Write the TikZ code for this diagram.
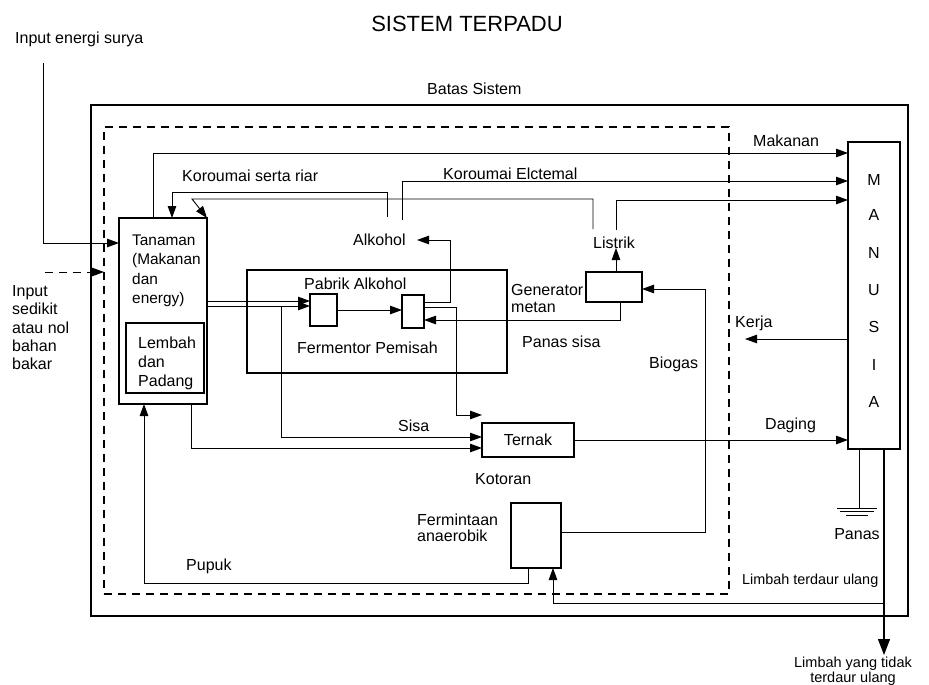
\documentclass[tikz,border=0pt]{standalone}
\usepackage{fontspec}
\setmainfont{Liberation Sans}
\usetikzlibrary{arrows.meta}
\begin{document}
\begin{tikzpicture}[x=1pt,y=-1pt,
  lbl/.style={font=\fontsize{16}{19}\selectfont, inner sep=0pt, anchor=base west},
  bx/.style={draw, line width=2pt, inner sep=0pt, outer sep=0pt, anchor=north west},
  dbx/.style={draw, line width=1.4pt, dash pattern=on 8pt off 6pt, inner sep=0pt, outer sep=0pt, anchor=north west},
  ln/.style={line width=0.9pt},
  arr/.style={ln, -{Triangle[length=12pt,width=8.5pt]}},
  bigarr/.style={line width=1.2pt, -{Triangle[length=16pt,width=12pt]}}]
\path[fill=white] (0,0) rectangle (929,685);
\useasboundingbox (0,0) rectangle (929,685);

% boxes
\node[bx, line width=2.4pt, minimum width=817pt, minimum height=511pt] (outer) at (91,105) {};
\node[dbx, minimum width=625pt, minimum height=467pt] (dash) at (104,127) {};
\node[bx, minimum width=52pt, minimum height=307pt] (man) at (848,142) {};
\node[bx, minimum width=88pt, minimum height=186pt] (tan) at (119,218) {};
\node[bx, minimum width=78pt, minimum height=70pt] (lem) at (126,323) {};
\node[bx, minimum width=260pt, minimum height=103pt] (pab) at (247,270) {};
\node[bx, minimum width=27pt, minimum height=32pt] (ferm) at (310,294) {};
\node[bx, minimum width=22pt, minimum height=33pt] (sep) at (402,295) {};
\node[bx, minimum width=56pt, minimum height=30pt] (gen) at (586,272) {};
\node[bx, minimum width=92pt, minimum height=34pt, font=\fontsize{16}{19}\selectfont] (ter) at (482,423) {Ternak};
\node[bx, minimum width=50pt, minimum height=65pt] (fan) at (511,503) {};

% texts
\node[lbl, anchor=base, font=\fontsize{22}{26}\selectfont] (ttl) at (467,32) {SISTEM TERPADU};
\node[lbl] (tsol) at (15,44) {Input energi surya};
\node[lbl] (tbatas) at (427,94) {Batas Sistem};
\node[lbl] (tmak) at (753,146) {Makanan};
\node[lbl] (tkr) at (182,181) {Koroumai serta riar};
\node[lbl] (tke) at (443,179) {Koroumai Elctemal};
\node[lbl] (talk) at (353,245) {Alkohol};
\node[lbl] (tlis) at (593,248) {Listrik};
\node[lbl, font=\fontsize{15.4}{19}\selectfont] (ttan1) at (132,245) {Tanaman};
\node[lbl, font=\fontsize{15.4}{19}\selectfont] (ttan2) at (132,264) {(Makanan};
\node[lbl, font=\fontsize{15.4}{19}\selectfont] (ttan3) at (132,284) {dan};
\node[lbl, font=\fontsize{15.4}{19}\selectfont] (ttan4) at (132,303) {energy)};
\node[lbl] (tlem1) at (138,348) {Lembah};
\node[lbl] (tlem2) at (138,367) {dan};
\node[lbl] (tlem3) at (138,386) {Padang};
\node[lbl] (tin1) at (12,296) {Input};
\node[lbl] (tin2) at (12,314) {sedikit};
\node[lbl] (tin3) at (12,333) {atau nol};
\node[lbl] (tin4) at (12,351) {bahan};
\node[lbl] (tin5) at (12,369) {bakar};
\node[lbl] (tpab) at (304,289) {Pabrik Alkohol};
\node[lbl] (tfp) at (297,353) {Fermentor Pemisah};
\node[lbl] (tgen1) at (511,295) {Generator};
\node[lbl] (tgen2) at (511,312) {metan};
\node[lbl] (tps) at (522,347) {Panas sisa};
\node[lbl] (tkerja) at (735,327) {Kerja};
\node[lbl] (tbio) at (649,368) {Biogas};
\node[lbl] (tsisa) at (398,431) {Sisa};
\node[lbl] (tdag) at (765,429) {Daging};
\node[lbl] (tkot) at (475,484) {Kotoran};
\node[lbl] (tfan1) at (417,525) {Fermintaan};
\node[lbl] (tfan2) at (417,541) {anaerobik};
\node[lbl] (tpup) at (186,570) {Pupuk};
\node[lbl, anchor=base] (tpan) at (857,539) {Panas};
\node[lbl, font=\fontsize{14.4}{17}\selectfont] (tltu) at (742,584) {Limbah terdaur ulang};
\node[lbl, anchor=base, font=\fontsize{14.5}{17}\selectfont] (tlw1) at (853,667) {Limbah yang tidak};
\node[lbl, anchor=base, font=\fontsize{14.5}{17}\selectfont] (tlw2) at (853,682.5) {terdaur ulang};
\node[lbl, anchor=center] (tm1) at (874,180) {M};
\node[lbl, anchor=center] (tm2) at (874,215) {A};
\node[lbl, anchor=center] (tm3) at (874,253) {N};
\node[lbl, anchor=center] (tm4) at (874,290) {U};
\node[lbl, anchor=center] (tm5) at (874,327) {S};
\node[lbl, anchor=center] (tm6) at (874,365) {I};
\node[lbl, anchor=center] (tm7) at (874,402) {A};

% coordinates
\coordinate (solTop) at (43,63);
\coordinate (solBend) at (43,243);
\coordinate (dIn) at (45,272);
\coordinate (mk) at (153,153);
\coordinate (keB) at (402,220);
\coordinate (ke) at (402,181);
\coordinate (liB) at (616,230);
\coordinate (li) at (616,200);
\coordinate (liTip) at (616,248);
\coordinate (k1B) at (387,217);
\coordinate (k1a) at (387,192);
\coordinate (k1b) at (172,192);
\coordinate (k2B) at (593,229);
\coordinate (k2a) at (593,199);
\coordinate (k2b) at (192,199);
\coordinate (tf1) at (207,301);
\coordinate (tf2) at (207,306);
\coordinate (sb) at (281,306);
\coordinate (s1) at (281,437);
\coordinate (t2) at (191,448);
\coordinate (al1) at (450,302);
\coordinate (al2) at (450,240);
\coordinate (alT) at (417,240);
\coordinate (st1) at (456,307);
\coordinate (st2) at (456,415);
\coordinate (ps) at (620,320);
\coordinate (bg1) at (705,532);
\coordinate (bg2) at (705,289);
\coordinate (kj) at (745,339);
\coordinate (pp1) at (528,583);
\coordinate (pp2) at (144,583);
\coordinate (lt1) at (884,603);
\coordinate (lt2) at (553,603);
\coordinate (lw) at (884,655);
\coordinate (gr) at (859,508);

% connectors
\draw[arr] (solTop) -- (solBend) -- (solBend -| tan.west);
\draw[arr, dash pattern=on 8pt off 6pt] (dIn) -- (dIn -| dash.west);
\draw[arr] (mk |- tan.north) -- (mk) -- (mk -| man.west);
\draw[arr] (keB) -- (ke) -- (ke -| man.west);
\draw[arr] (liB) -- (li) -- (li -| man.west);
\draw[arr] (gen.north -| liTip) -- (liTip);
\draw[arr] (k1B) -- (k1a) -- (k1b) -- (k1b |- tan.north);
\draw[arr] (k2B) -- (k2a) -- (k2b) -- (tan.north east);
\draw[arr] (tf1) -- (tf1 -| ferm.west);
\draw[arr] (tf2) -- (tf2 -| ferm.west);
\draw[arr] (sb) -- (s1) -- (s1 -| ter.west);
\draw[arr] (t2 |- tan.south) -- (t2) -- (t2 -| ter.west);
\draw[arr] (ferm.east) -- (ferm.east -| sep.west);
\draw[arr] (al1 -| sep.east) -- (al1) -- (al2) -- (alT);
\draw[arr] (st1 -| sep.east) -- (st1) -- (st2) -- (st2 -| ter.west);
\draw[arr] (ps |- gen.south) -- (ps) -- (ps -| sep.east);
\draw[arr] (bg1 -| fan.east) -- (bg1) -- (bg2) -- (bg2 -| gen.east);
\draw[arr] (ter.east) -- (ter.east -| man.west);
\draw[arr] (kj -| man.west) -- (kj);
\draw[arr] (pp1 |- fan.south) -- (pp1) -- (pp2) -- (pp2 |- tan.south);
\draw[arr] (lt1) -- (lt2) -- (lt2 |- fan.south);
\draw[bigarr] (lw |- man.south) -- (lw);
\draw[ln] (gr |- man.south) -- (gr);
\draw[ln] (837,508) -- (877,508);
\draw[ln] (840,511.5) -- (874,511.5);
\draw[ln] (846,515) -- (868,515);
\end{tikzpicture}
\end{document}
